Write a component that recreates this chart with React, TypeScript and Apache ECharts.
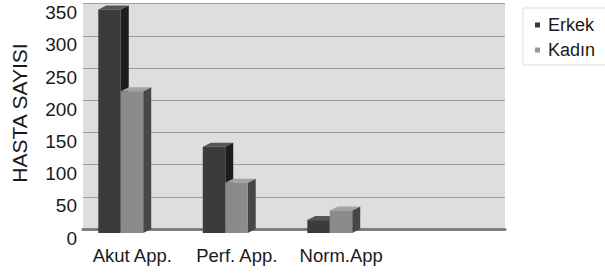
import React, { useEffect, useRef } from "react";
import * as echarts from "echarts";

const categories = ["Akut App.", "Perf. App.", "Norm.App", ""];
const erkek = [347, 134, 20];
const kadin = [220, 78, 35];
const seriesNames = ["Erkek", "Kadın"];
const yTicks = { min: 0, max: 350, interval: 50 };

const FONT = '"Liberation Sans", Arial, Helvetica, sans-serif';
const DX = 8;
const DY = -4;

const palettes = [
  { front: "#3b3b3b", top: "#555555", side: "#1d1d1d", legend: "#3b3b3b" },
  { front: "#8b8b8b", top: "#a3a3a3", side: "#474747", legend: "#9a9a9a" },
];

function makeRender(s: number) {
  const p = palettes[s];
  return (params: any, api: any) => {
    const ci = api.value(0);
    const v = api.value(1);
    const base = api.coord([ci, 0]);
    const top = api.coord([ci, v]);
    const bw = api.size([1, 0])[0];
    const w = bw * 0.215;
    const x0 = base[0] - bw * 0.325 + s * w;
    const yb = base[1];
    const yt = top[1];
    return {
      type: "group",
      children: [
        {
          type: "polygon",
          shape: {
            points: [
              [x0 + w, yt],
              [x0 + w + DX, yt + DY],
              [x0 + w + DX, yb + DY],
              [x0 + w, yb],
            ],
          },
          style: { fill: p.side },
        },
        {
          type: "polygon",
          shape: {
            points: [
              [x0, yt],
              [x0 + DX, yt + DY],
              [x0 + w + DX, yt + DY],
              [x0 + w, yt],
            ],
          },
          style: { fill: p.top },
        },
        {
          type: "rect",
          shape: { x: x0, y: yt, width: w, height: yb - yt },
          style: { fill: p.front },
        },
      ],
    };
  };
}

export default function App() {
  const ref = useRef<HTMLDivElement>(null);
  useEffect(() => {
    if (!ref.current) return;
    const chart = echarts.init(ref.current, undefined, { renderer: "svg" });
    const option: any = {
      animation: false,
      backgroundColor: "#ffffff",
      textStyle: { fontFamily: FONT },
      grid: [
        { left: 80, right: 107, top: 7.6, bottom: 40 },
        {
          left: 83,
          right: 100,
          top: 3.6,
          bottom: 44,
          show: true,
          backgroundColor: "#dedede",
          borderWidth: 0,
          z: 0,
        },
      ],
      xAxis: [
        {
          type: "category",
          gridIndex: 0,
          data: categories,
          axisLine: { show: false },
          axisTick: { show: false },
          axisLabel: {
            fontSize: 18.5,
            color: "#1a1a1a",
            fontFamily: FONT,
            margin: 13,
            interval: 0,
          },
        },
        {
          type: "value",
          gridIndex: 1,
          min: 0,
          max: 1,
          axisLabel: { show: false },
          axisTick: { show: false },
          splitLine: { show: false },
          axisLine: { show: true, lineStyle: { color: "#7d7d7d", width: 3 } },
        },
      ],
      yAxis: [
        {
          type: "value",
          gridIndex: 0,
          min: yTicks.min,
          max: yTicks.max,
          interval: yTicks.interval,
          axisLine: { show: false },
          axisTick: { show: false },
          splitLine: { show: false },
          axisLabel: {
            margin: 3,
            formatter: "{t|{value}}",
            rich: {
              t: {
                fontSize: 19,
                color: "#1a1a1a",
                fontFamily: FONT,
                padding: [10, 0, 0, 0],
              },
            },
          },
        },
        {
          type: "value",
          gridIndex: 1,
          min: yTicks.min,
          max: yTicks.max,
          interval: yTicks.interval,
          axisLine: { show: false },
          axisTick: { show: false },
          axisLabel: { show: false },
          splitLine: { show: true, lineStyle: { color: "#9e9e9e", width: 1 } },
        },
      ],
      legend: {
        orient: "vertical",
        left: 523,
        top: 8,
        data: seriesNames,
        icon: "rect",
        itemWidth: 5,
        itemHeight: 5,
        itemGap: 7,
        padding: [8, 30, 6, 12],
        borderColor: "#dddddd",
        borderWidth: 1,
        textStyle: { fontSize: 18, color: "#1a1a1a", fontFamily: FONT, padding: [0, 0, 0, 3] },
      },
      graphic: [
        {
          type: "text",
          x: 19,
          y: 113,
          rotation: Math.PI / 2,
          style: {
            text: "HASTA SAYISI",
            font: `21px ${FONT}`,
            fill: "#1a1a1a",
            textAlign: "center",
            textVerticalAlign: "middle",
          },
        },
      ],
      series: [
        {
          name: seriesNames[0],
          type: "custom",
          xAxisIndex: 0,
          yAxisIndex: 0,
          itemStyle: { color: palettes[0].legend },
          renderItem: makeRender(0),
          data: erkek.map((v, i) => [i, v]),
          z: 3,
        },
        {
          name: seriesNames[1],
          type: "custom",
          xAxisIndex: 0,
          yAxisIndex: 0,
          itemStyle: { color: palettes[1].legend },
          renderItem: makeRender(1),
          data: kadin.map((v, i) => [i, v]),
          z: 3,
        },
      ],
    };
    chart.setOption(option);
    return () => chart.dispose();
  }, []);
  return (
    <div
      ref={ref}
      style={{ position: "fixed", left: 0, top: 0, width: 605, height: 273 }}
    />
  );
}
